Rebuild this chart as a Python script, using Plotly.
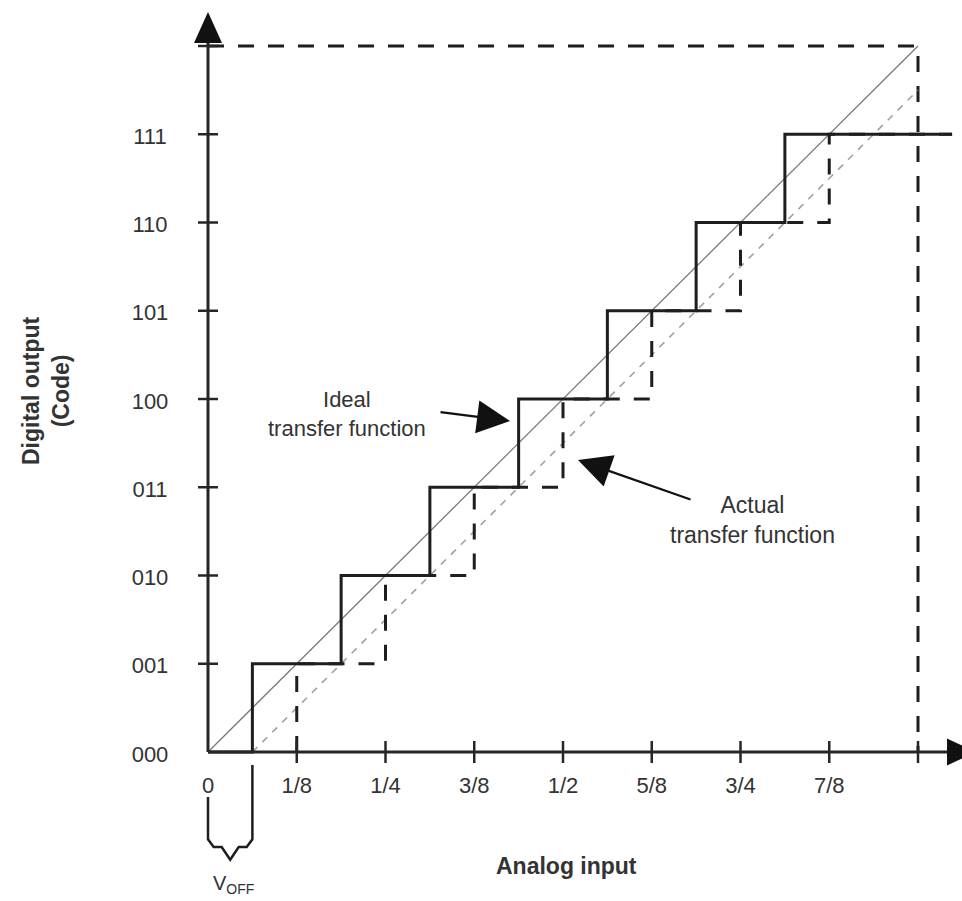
import plotly.graph_objects as go

# ---- values -------------------------------------------------------------
code_labels = ["000", "001", "010", "011", "100", "101", "110", "111"]
code_values = [0, 1, 2, 3, 4, 5, 6, 7]
full_scale_code = 8

x_tick_labels = ["0", "1/8", "1/4", "3/8", "1/2", "5/8", "3/4", "7/8"]
x_tick_values = [0, 0.125, 0.25, 0.375, 0.5, 0.625, 0.75, 0.875]
full_scale_input = 1.0

offset_voltage = 1 / 16          # V_OFF
ideal_transitions = [1/16, 3/16, 5/16, 7/16, 9/16, 11/16, 13/16]
actual_transitions = [1/8, 2/8, 3/8, 4/8, 5/8, 6/8, 7/8]
stair_end = 1.048

# ---- figure geometry (data units) --------------------------------------
PX_X = 710.0     # pixels per full-scale input
PX_Y = 88.25     # pixels per code
X_RANGE = [-208 / PX_X, (962 - 208) / PX_X]
Y_RANGE = [-(901 - 752) / PX_Y, 752 / PX_Y]

FONT = "Liberation Sans, Arial, sans-serif"
INK = "#1e1e1e"
TXT = "#333333"


def staircase(transitions, end):
    xs, ys = [], []
    level = 0
    for t in transitions:
        xs += [t, t]
        ys += [level, level + 1]
        level += 1
    xs.append(end)
    ys.append(level)
    return xs, ys


def line(xs, ys, color, width, dash="solid"):
    return go.Scatter(x=xs, y=ys, mode="lines",
                      line=dict(color=color, width=width, dash=dash),
                      hoverinfo="skip", showlegend=False)


fig = go.Figure()

# full-scale dashed box
fig.add_trace(line([0, full_scale_input, full_scale_input],
                   [full_scale_code, full_scale_code, 0],
                   INK, 3, "16px,14px"))

# straight-line transfer functions
fig.add_trace(line([0, full_scale_input], [0, full_scale_code], "#7a7a7a", 1.3))
fig.add_trace(line([offset_voltage, full_scale_input],
                   [0, full_scale_code * (full_scale_input - offset_voltage)],
                   "#a0a0a0", 1.6, "7px,7px"))

# actual (dashed) and ideal (solid) staircases
ax_, ay_ = staircase(actual_transitions, stair_end)
fig.add_trace(line(ax_, ay_, INK, 3, "16px,14px"))
ix_, iy_ = staircase(ideal_transitions, stair_end)
fig.add_trace(line([0] + ix_, [0] + iy_, INK, 3))

# axes
fig.add_trace(line([0, 0], [0, (752 - 43) / PX_Y], "#262626", 3))
fig.add_trace(line([0, (947 - 208) / PX_X], [0, 0], "#262626", 3))

# tick marks
tx, ty = [], []
for v in x_tick_values[1:] + [full_scale_input]:
    tx += [v, v, None]
    ty += [11 / PX_Y, -11 / PX_Y, None]
for c in code_values[1:] + [full_scale_code]:
    tx += [-10 / PX_X, 10 / PX_X, None]
    ty += [c, c, None]
fig.add_trace(line(tx, ty, "#262626", 2.5))

# V_OFF brace
h = offset_voltage
m = h / 2
brace_x = [0, 0, 0.008, m - 0.012, m, m + 0.012, h - 0.008, h, h]
brace_y = [-0.51, -0.99, -1.076, -1.076, -1.22, -1.076, -1.076, -0.99, -0.147]
fig.add_trace(line(brace_x, brace_y, INK, 2.5))

# tick labels
fig.add_trace(go.Scatter(
    x=x_tick_values, y=[-35 / PX_Y] * len(x_tick_values),
    mode="text", text=x_tick_labels,
    textfont=dict(family=FONT, size=22, color=TXT),
    hoverinfo="skip", showlegend=False))
fig.add_trace(go.Scatter(
    x=[-58 / PX_X] * len(code_values), y=[c - 4 / PX_Y for c in code_values],
    mode="text", text=code_labels,
    textfont=dict(family=FONT, size=22, color=TXT),
    hoverinfo="skip", showlegend=False))

# axis arrowheads
shapes = [
    dict(type="path", xref="x", yref="y",
         path=f"M {-14/PX_X},{(752-43)/PX_Y} L {14/PX_X},{(752-43)/PX_Y} "
              f"L 0,{(752-12)/PX_Y} Z",
         fillcolor="#111", line=dict(width=0)),
    dict(type="path", xref="x", yref="y",
         path=f"M {(947-208)/PX_X},{13.5/PX_Y} L {(947-208)/PX_X},{-13.5/PX_Y} "
              f"L {(976-208)/PX_X},0 Z",
         fillcolor="#111", line=dict(width=0)),
]

annotations = [
    # pointer arrows
    dict(x=(510 - 208) / PX_X, y=(752 - 421) / PX_Y, xref="x", yref="y",
         ax=-71, ay=-9, text="", showarrow=True, arrowhead=2,
         arrowwidth=2.2, arrowsize=3.0, arrowcolor="#111"),
    dict(x=(578 - 208) / PX_X, y=(752 - 460) / PX_Y, xref="x", yref="y",
         ax=114, ay=40, text="", showarrow=True, arrowhead=2,
         arrowwidth=2.2, arrowsize=3.0, arrowcolor="#111"),
    # labels
    dict(x=(347 - 208) / PX_X, y=(752 - 414) / PX_Y, xref="x", yref="y",
         text="Ideal<br>transfer function", showarrow=False,
         font=dict(family=FONT, size=22, color=TXT), align="center"),
    dict(x=(752 - 208) / PX_X, y=(752 - 520) / PX_Y, xref="x", yref="y",
         text="Actual<br>transfer function", showarrow=False,
         font=dict(family=FONT, size=23, color=TXT), align="center"),
    dict(x=(566 - 208) / PX_X, y=(752 - 866) / PX_Y, xref="x", yref="y",
         text="<b>Analog input</b>", showarrow=False,
         font=dict(family=FONT, size=23, color=TXT)),
    dict(x=(46 - 208) / PX_X, y=(752 - 391) / PX_Y, xref="x", yref="y",
         text="<b>Digital output<br>(Code)</b>", showarrow=False,
         textangle=-90, align="center",
         font=dict(family=FONT, size=23, color=TXT)),
    dict(x=(233 - 208) / PX_X, y=(752 - 884) / PX_Y, xref="x", yref="y",
         text="V<sub>OFF</sub>", showarrow=False,
         font=dict(family=FONT, size=20, color=TXT)),
]

fig.update_layout(
    width=962, height=901,
    margin=dict(l=0, r=0, t=0, b=0),
    paper_bgcolor="white", plot_bgcolor="white",
    xaxis=dict(range=X_RANGE, visible=False, fixedrange=True),
    yaxis=dict(range=Y_RANGE, visible=False, fixedrange=True),
    shapes=shapes, annotations=annotations,
    showlegend=False,
)

fig.write_html("out.html")
